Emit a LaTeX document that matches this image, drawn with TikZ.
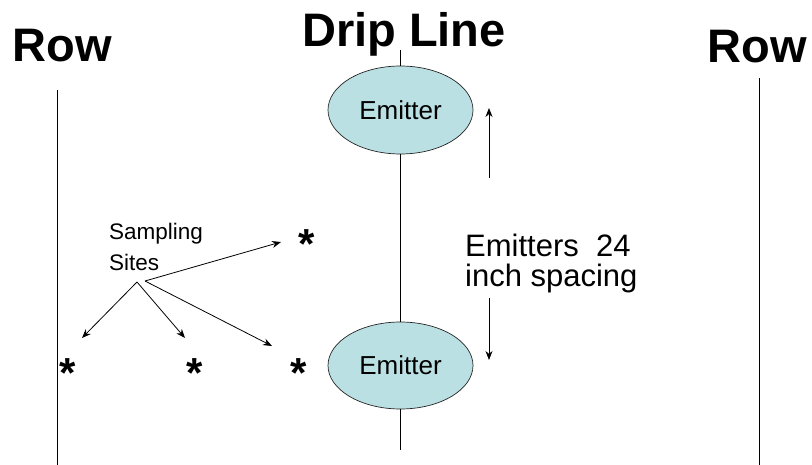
\documentclass[tikz,border=0pt]{standalone}
\usepackage{fontspec}
\setmainfont{Liberation Sans}
\usetikzlibrary{shapes.geometric,arrows.meta}
\definecolor{emfill}{RGB}{187,224,227}
\begin{document}
\begin{tikzpicture}[x=1pt,y=-1pt,
  title/.style={font=\fontsize{47}{50}\selectfont\bfseries, inner sep=0pt, anchor=base},
  emitter/.style={ellipse, draw=black!85, line width=0.7pt, fill=emfill, minimum width=145pt, minimum height=88pt, inner sep=0pt, font=\fontsize{26}{30}\selectfont},
  plain/.style={inner sep=0pt, anchor=base west},
  bigtext/.style={font=\fontsize{31}{36}\selectfont},
  smalltext/.style={font=\fontsize{22.5}{27}\selectfont},
  starmark/.style={font=\fontsize{42}{42}\selectfont\bfseries, inner sep=0pt, anchor=base},
  arr/.style={-{Stealth[length=9pt,width=7pt]}, line width=0.8pt},
  ln/.style={line width=0.8pt}]
\useasboundingbox (0,0) rectangle (812,465);

% titles
\node[title] (drip) at (404,47) {Drip Line};
\node[title] (rowL) at (62,62) {Row};
\node[title] (rowR) at (757,63) {Row};

% row lines
\coordinate (lt) at (57.5,90);
\coordinate (lb) at (57.5,465);
\coordinate (rt) at (759,78);
\coordinate (rb) at (759,465);
\draw[ln] (lt) -- (lb);
\draw[ln] (rt) -- (rb);

% emitters and drip line
\node[emitter] (e1) at (400.5,110) {Emitter};
\node[emitter, minimum height=87pt] (e2) at (400.5,365.5) {Emitter};
\coordinate (dtop) at (400.5,50);
\coordinate (dbot) at (400.5,450);
\draw[ln] (dtop) -- (e1.north);
\draw[ln] (e1.south) -- (e2.north);
\draw[ln] (e2.south) -- (dbot);

% spacing arrows and text
\coordinate (u0) at (489,178);
\coordinate (u1) at (489,108);
\coordinate (d0) at (489,298);
\coordinate (d1) at (489,360);
\draw[arr] (u0) -- (u1);
\draw[arr] (d0) -- (d1);
\node[plain, bigtext] (sp1) at (465,257) {Emitters\ \ 24};
\node[plain, bigtext] (sp2) at (465,287) {inch spacing};

% sampling sites
\node[plain, smalltext] (s1) at (109,240) {Sampling};
\node[plain, smalltext] (s2) at (109,271) {Sites};

% stars
\node[starmark] (st1) at (68,387) {*};
\node[starmark] (st2) at (195,387) {*};
\node[starmark] (st3) at (299,387) {*};
\node[starmark] (st4) at (307,259) {*};

% arrows to sites
\coordinate (o1) at (137,282);
\coordinate (o2) at (145,281);
\coordinate (t1) at (82,338);
\coordinate (t2) at (185,338);
\coordinate (t3) at (272,346);
\coordinate (t4) at (281,242);
\draw[arr] (o1) -- (t1);
\draw[arr] (o1) -- (t2);
\draw[arr] (o2) -- (t3);
\draw[arr] (o2) -- (t4);
\end{tikzpicture}
\end{document}
